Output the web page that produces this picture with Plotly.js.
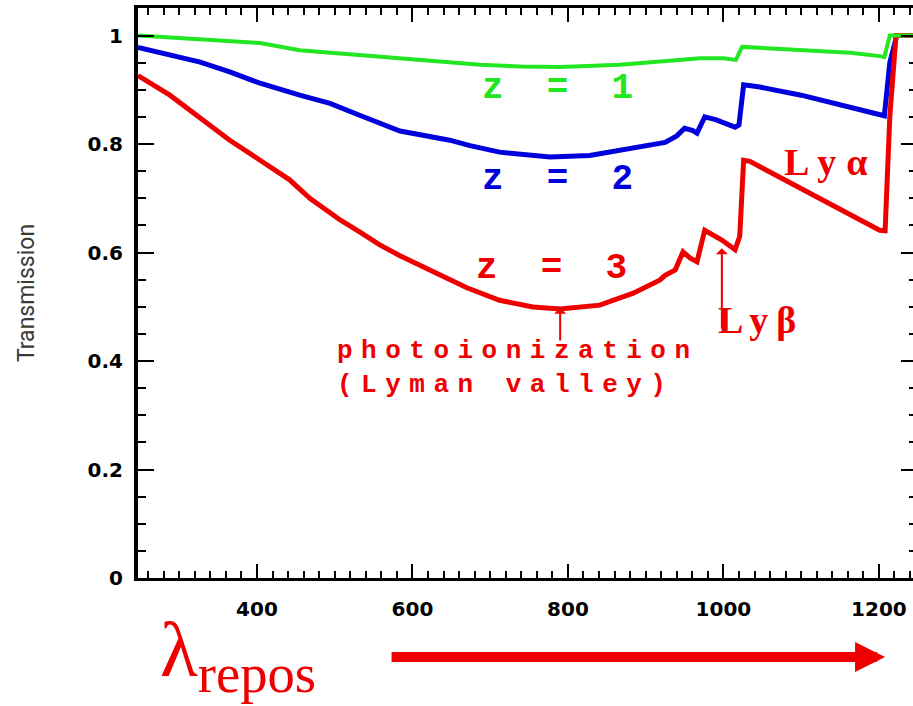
<!DOCTYPE html>
<html>
<head>
<meta charset="utf-8">
<script src="https://cdn.plot.ly/plotly-3.0.1.min.js"></script>
<style>
html, body { margin: 0; padding: 0; overflow: hidden; background: #fff; }
#chart { width: 917px; height: 706px; }
</style>
</head>
<body>
<div id="chart"></div>
<script>
// Rest-frame wavelength (Angstrom) and transmission
const wl_z1 = [247, 327, 404, 455, 545, 584, 640, 687, 740, 790, 867, 905, 944, 970, 1000, 1016, 1024, 1050, 1098, 1163, 1201, 1207, 1214, 1249];
const tr_z1 = [1.0, 0.993, 0.986, 0.973, 0.962, 0.958, 0.952, 0.946, 0.943, 0.942, 0.946, 0.950, 0.955, 0.958, 0.958, 0.955, 0.979, 0.977, 0.973, 0.968, 0.962, 0.960, 1.0, 1.0];

const wl_z2 = [247, 288, 327, 365, 404, 455, 494, 532, 584, 648, 674, 712, 777, 828, 867, 905, 925, 940, 950, 960, 966, 976, 990, 1015, 1020, 1026, 1047, 1100, 1150, 1201, 1207, 1214, 1223, 1249];
const tr_z2 = [0.978, 0.965, 0.951, 0.933, 0.912, 0.890, 0.875, 0.853, 0.824, 0.807, 0.797, 0.785, 0.776, 0.779, 0.789, 0.800, 0.803, 0.815, 0.829, 0.825, 0.820, 0.850, 0.845, 0.831, 0.835, 0.909, 0.905, 0.890, 0.872, 0.853, 0.852, 0.950, 1.0, 1.0];

const wl_z3 = [247, 288, 327, 365, 404, 442, 468, 507, 532, 558, 584, 626, 670, 712, 755, 790, 841, 884, 918, 925, 938, 948, 957, 966, 976, 998, 1015, 1021, 1026, 1034, 1201, 1208, 1214, 1222, 1249];
const tr_z3 = [0.926, 0.890, 0.848, 0.807, 0.770, 0.734, 0.700, 0.660, 0.638, 0.614, 0.594, 0.564, 0.535, 0.512, 0.4995, 0.496, 0.503, 0.525, 0.549, 0.558, 0.568, 0.601, 0.590, 0.583, 0.641, 0.623, 0.605, 0.630, 0.770, 0.768, 0.641, 0.640, 0.850, 1.0, 1.0];

const xTickVals = [400, 600, 800, 1000, 1200];
const yTickVals = [0, 0.2, 0.4, 0.6, 0.8, 1];
const yTickText = ['0', '0.2', '0.4', '0.6', '0.8', '1'];

const labelZ1 = 'z\u00a0\u00a0=\u00a0\u00a01';
const labelZ2 = 'z\u00a0\u00a0=\u00a0\u00a02';
const labelZ3 = 'z\u00a0\u00a0=\u00a0\u00a03';
const labelPhoto = 'photoionization<br>(Lyman valley)';
const labelLya = 'Ly\u03b1';
const labelLyb = 'Ly\u03b2';
const labelLambda = '\u03bb<sub>repos</sub>';
const yTitle = 'Transmission';

const GREEN = '#22e622', BLUE = '#0000dc', RED = '#ee0000';

const traces = [
  { x: wl_z2, y: tr_z2, mode: 'lines', line: { color: BLUE, width: 5 }, name: 'z = 2' },
  { x: wl_z3, y: tr_z3, mode: 'lines', line: { color: RED, width: 5 }, name: 'z = 3' },
  { x: wl_z1, y: tr_z1, mode: 'lines', line: { color: GREEN, width: 4 }, name: 'z = 1' }
];

const tickFont = { family: 'DejaVu Sans', size: 20, color: '#000', weight: 'bold' };
const mono = 'Liberation Mono, DejaVu Sans Mono, monospace';

const annotations = [
  { x: 786, y: 0.903, text: labelZ1, showarrow: false, font: { family: mono, size: 36, color: GREEN, weight: 'bold' } },
  { x: 786, y: 0.734, text: labelZ2, showarrow: false, font: { family: mono, size: 36, color: BLUE, weight: 'bold' } },
  { x: 779, y: 0.571, text: labelZ3, showarrow: false, font: { family: mono, size: 36, color: RED, weight: 'bold' } },
  { x: 500, y: 0.387, text: labelPhoto, showarrow: false, xanchor: 'left', align: 'left', font: { family: mono, size: 26, color: RED, weight: 'bold' } },
  { x: 1075, y: 0.767, text: labelLya, showarrow: false, xanchor: 'left', align: 'left', font: { family: 'Liberation Serif', size: 38, color: RED, weight: 'bold' } },
  { x: 991, y: 0.476, text: labelLyb, showarrow: false, xanchor: 'left', align: 'left', font: { family: 'Liberation Serif', size: 38, color: RED, weight: 'bold' } },
  { x: 790, y: 0.498, ax: 790, ay: 0.435, axref: 'x', ayref: 'y', text: '', showarrow: true, arrowhead: 1, arrowwidth: 2, arrowsize: 1, arrowcolor: RED },
  { x: 998, y: 0.608, ax: 998, ay: 0.457, axref: 'x', ayref: 'y', text: '', showarrow: true, arrowhead: 1, arrowwidth: 2, arrowsize: 1, arrowcolor: RED },
  { xref: 'paper', yref: 'paper', x: 0.026, y: -0.135, xanchor: 'left', yanchor: 'middle', text: labelLambda, showarrow: false, font: { family: 'Liberation Serif', size: 78, color: RED } },
  { xref: 'paper', yref: 'paper', x: 0.959, y: -0.1386, ax: -495, ay: 0, text: '', showarrow: true, arrowhead: 2, arrowwidth: 10, arrowsize: 0.6, arrowcolor: RED }
];

const layout = {
  width: 917, height: 706,
  margin: { l: 138, r: 0, t: 8, b: 128 },
  paper_bgcolor: '#fff', plot_bgcolor: '#fff',
  showlegend: false,
  xaxis: {
    range: [247, 1249], tickvals: xTickVals, ticktext: xTickVals.map(String),
    ticks: 'inside', ticklen: 14, tickwidth: 2, tickcolor: '#000',
    minor: { ticks: 'inside', dtick: 20, ticklen: 7, tickwidth: 2, tickcolor: '#000' },
    showline: true, linecolor: '#000', linewidth: 3, mirror: 'ticks',
    showgrid: false, zeroline: false, tickfont: tickFont, ticklabelstandoff: 11
  },
  yaxis: {
    range: [0, 1.0507], tickvals: yTickVals, ticktext: yTickText,
    ticks: 'inside', ticklen: 16, tickwidth: 2, tickcolor: '#000',
    minor: { ticks: 'inside', dtick: 0.05, ticklen: 8, tickwidth: 2, tickcolor: '#000' },
    showline: true, linecolor: '#000', linewidth: 4, mirror: 'ticks',
    showgrid: false, zeroline: false, tickfont: tickFont, ticklabelstandoff: 7,
    title: { text: yTitle, font: { family: 'Roboto', size: 23, color: '#3a3a3a' }, standoff: 48 }
  },
  annotations: annotations
};

Plotly.newPlot('chart', traces, layout, { staticPlot: true, displayModeBar: false }).then(function () {
  const spacing = { 3: 8.5, 4: 10, 5: 8 };
  Object.keys(spacing).forEach(function (i) {
    const t = document.querySelector('.annotation[data-index="' + i + '"] text.annotation-text');
    if (t) t.style.letterSpacing = spacing[i] + 'px';
  });
});
</script>
</body>
</html>
